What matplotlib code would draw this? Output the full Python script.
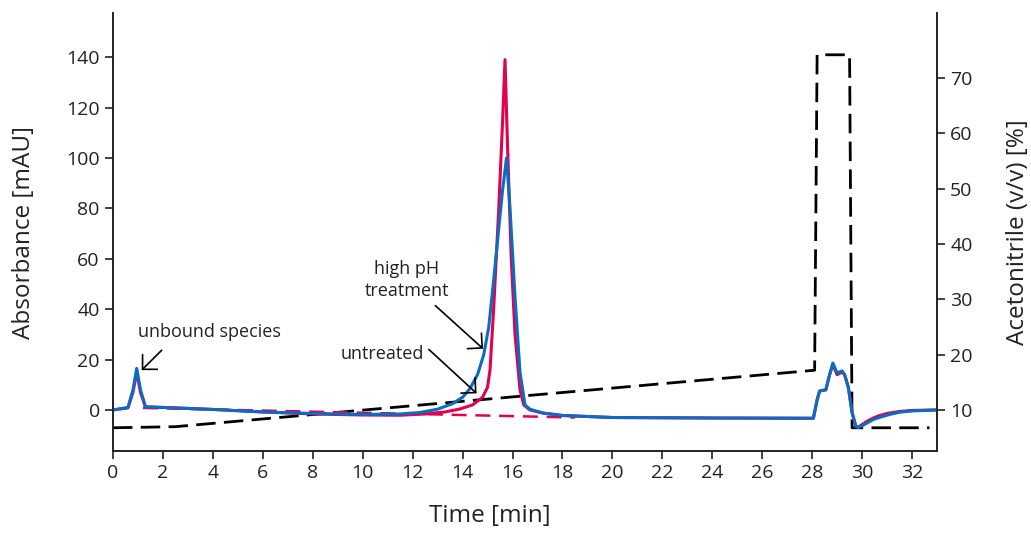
import matplotlib
matplotlib.use('Agg')
from matplotlib import pyplot as plt

plt.rcParams['font.family'] = ['Open Sans', 'DejaVu Sans']

# untreated (red)
t_red = [0, 0.6, 0.8, 0.95, 1.1, 1.3, 2, 4, 6, 8, 10, 11.5, 12.5, 13.3, 13.9, 14.4,
         14.8, 15.0, 15.1, 15.25, 15.45, 15.6, 15.7, 15.8, 15.95, 16.1, 16.3, 16.45, 16.7,
         17.2, 18, 20, 24, 28.05, 28.2, 28.3, 28.55, 28.7, 28.83, 29.0, 29.2, 29.3,
         29.45, 29.6, 29.75, 29.85, 30.0, 30.2, 30.45, 30.7, 31.0, 31.5, 32, 33]
a_red = [0, 0.8, 7, 15, 7, 1.2, 1.0, 0.2, -0.8, -1.6, -2.0, -2.1, -1.6, -0.8, 0.4, 2.0,
         5, 9, 16, 41, 80, 114, 139, 105, 60, 30, 8, 2, 0, -1.2, -2.2, -3.0, -3.2, -3.3,
         4, 7.5, 8, 14, 18, 14, 15, 14, 9, -1, -6.5, -6.8, -5.8, -4.5, -3.2, -2.2,
         -1.4, -0.6, -0.2, 0]

# high pH treatment (blue)
t_blue = [0, 0.6, 0.8, 0.95, 1.1, 1.3, 2, 4, 6, 8, 10, 11.5, 12.3, 13.0, 13.6, 14.0,
          14.3, 14.6, 14.85, 15.05, 15.25, 15.45, 15.6, 15.76, 15.9, 16.1, 16.3, 16.5,
          16.7, 17.2, 18, 20, 24, 28.05, 28.2, 28.3, 28.55, 28.7, 28.83, 29.0, 29.2,
          29.3, 29.45, 29.6, 29.75, 29.85, 30.0, 30.2, 30.45, 30.75, 31.1, 31.5, 32, 33]
a_blue = [0, 1.0, 8, 16.5, 8, 1.2, 1.0, 0.2, -0.8, -1.4, -1.8, -1.6, -1.0, 0.3, 2.5, 5,
          8.5, 14, 22, 33, 52, 72, 87, 100, 80, 45, 15, 2, 0.3, -1.2, -2.2, -3.0, -3.2,
          -3.3, 4, 7.5, 8, 14, 18.6, 14.7, 15.5, 14, 9, -1, -6.5, -7, -6.3, -5.2, -3.8,
          -2.8, -1.8, -0.9, -0.4, 0]

# untreated baseline (red dashed)
t_base = [1.2, 18.5]
a_base = [0.8, -3.0]

# acetonitrile gradient (black dashed, right axis)
t_grad = [0, 2.5, 28.1, 28.2, 29.5, 29.6, 32.7]
acn = [6.8, 7.0, 17.2, 74.2, 74.2, 6.8, 6.8]

red = '#e2004f'
blue = '#0a6cc2'
ink = '#222222'

fig, ax = plt.subplots(figsize=(10.31, 5.33), dpi=100)
fig.subplots_adjust(left=0.1096, right=0.9088, bottom=0.1538, top=0.9756)
ax2 = ax.twinx()
ax.set_zorder(ax2.get_zorder() + 1)
ax.patch.set_visible(False)

ax2.plot(t_grad, acn, color='black', lw=2, dashes=(7, 3))
ax.plot(t_base, a_base, color=red, lw=1.8, dashes=(6, 3.5))
ax.plot(t_red, a_red, color=red, lw=2.2)
ax.plot(t_blue, a_blue, color=blue, lw=2.2)

ax.set_xlim(0, 33)
ax.set_ylim(-16.3, 157.5)
ax2.set_ylim(2.6, 81.75)
ax.set_xticks(range(0, 33, 2))
ax.set_yticks(range(0, 141, 20))
ax2.set_yticks(range(10, 71, 10))

for a in (ax, ax2):
    a.spines['top'].set_visible(False)
    for s in a.spines.values():
        s.set_linewidth(1.2)
        s.set_color(ink)
    a.tick_params(labelsize=14, length=6, width=1.2, color=ink, labelcolor=ink)

ax.set_xlabel('Time [min]', fontsize=17.5, color=ink)
ax.set_ylabel('Absorbance [mAU]', fontsize=17.5, color=ink)
ax2.set_ylabel('Acetonitrile (v/v) [%]', fontsize=17.5, color=ink)
ax.xaxis.set_label_coords(0.4575, -0.12)
ax.yaxis.set_label_coords(-0.093, 0.5)
ax2.yaxis.set_label_coords(1.0837, 0.5)

arrow = dict(arrowstyle='->,head_length=0.75,head_width=0.75', lw=1.2, color='black',
             shrinkA=0, shrinkB=0, mutation_scale=10)
ax.annotate('', xy=(1.15, 15.8), xytext=(1.95, 23.7), arrowprops=arrow)
ax.annotate('', xy=(14.82, 24.3), xytext=(12.91, 41.4), arrowprops=arrow)
ax.annotate('', xy=(14.56, 6.6), xytext=(12.65, 24.0), arrowprops=arrow)
ax.text(1.02, 31, 'unbound species', fontsize=13, fontweight='medium',
        ha='left', va='center', color=ink)
ax.text(11.77, 51.5, 'high pH\ntreatment', fontsize=13, fontweight='medium',
        ha='center', va='center', color=ink, linespacing=1.3)
ax.text(12.47, 22, 'untreated', fontsize=13, fontweight='medium',
        ha='right', va='center', color=ink)

plt.savefig('out.png', dpi=100)
